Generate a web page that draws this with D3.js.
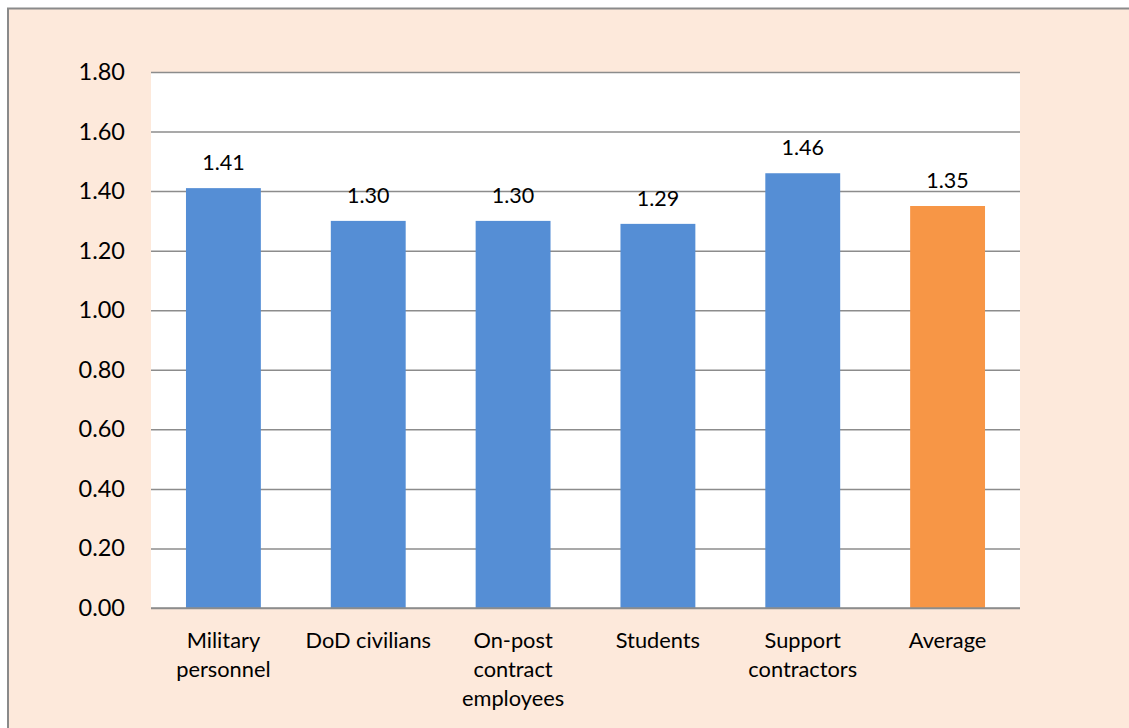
<!DOCTYPE html>
<html>
<head>
<meta charset="utf-8">
<script src="https://cdn.jsdelivr.net/npm/d3@7"></script>
<style>
  html, body { margin: 0; padding: 0; background: #ffffff; }
  svg { display: block; }
  text { font-family: Lato, "Open Sans", sans-serif; fill: #000; }
</style>
</head>
<body>
<svg id="chart" width="1129" height="728"></svg>
<script>
// Ratio by respondent group
const categories = [
  ["Military", "personnel"],
  ["DoD civilians"],
  ["On-post", "contract", "employees"],
  ["Students"],
  ["Support", "contractors"],
  ["Average"]
];
const values = [1.41, 1.30, 1.30, 1.29, 1.46, 1.35];
const valueLabels = ["1.41", "1.30", "1.30", "1.29", "1.46", "1.35"];
const barColors = ["#558ed5", "#558ed5", "#558ed5", "#558ed5", "#558ed5", "#f79646"];
const yTicks = [0, 0.2, 0.4, 0.6, 0.8, 1.0, 1.2, 1.4, 1.6, 1.8];

const W = 1129, H = 728;
const plot = { left: 151, right: 1020, top: 72, bottom: 608 };

const svg = d3.select("#chart");

// outer frame
svg.append("rect")
  .attr("x", 8).attr("y", 8.5)
  .attr("width", W + 20).attr("height", H + 20)
  .attr("fill", "#fde9db")
  .attr("stroke", "#8a8a8a").attr("stroke-width", 2);

// plot area
svg.append("rect")
  .attr("x", plot.left).attr("y", plot.top)
  .attr("width", plot.right - plot.left).attr("height", plot.bottom - plot.top)
  .attr("fill", "#ffffff");

const x = d3.scaleBand()
  .domain(d3.range(categories.length))
  .range([plot.left, plot.right])
  .paddingInner(0.483).paddingOuter(0.2415);

const y = d3.scaleLinear().domain([0, 1.8]).range([plot.bottom, plot.top]);

// gridlines + y labels
const yAxis = d3.axisLeft(y)
  .tickValues(yTicks)
  .tickFormat(d3.format(".2f"))
  .tickSize(-(plot.right - plot.left))
  .tickPadding(26);

const gy = svg.append("g")
  .attr("transform", `translate(${plot.left},0)`)
  .call(yAxis);
gy.select(".domain").remove();
gy.selectAll(".tick line").attr("stroke", "#8c8c8c").attr("stroke-width", 1.5);
gy.selectAll(".tick text")
  .attr("font-size", 23.5)
  .style("font-family", "Lato, sans-serif")
  .attr("fill", "#000");

// bars
svg.append("g").selectAll("rect")
  .data(values)
  .join("rect")
  .attr("x", (d, i) => x(i))
  .attr("width", x.bandwidth())
  .attr("y", d => y(d))
  .attr("height", d => y(0) - y(d))
  .attr("fill", (d, i) => barColors[i]);

// baseline axis (drawn over bars)
svg.append("line")
  .attr("x1", plot.left).attr("x2", plot.right)
  .attr("y1", y(0)).attr("y2", y(0))
  .attr("stroke", "#8c8c8c").attr("stroke-width", 1.5);

// value labels
svg.append("g").selectAll("text")
  .data(values)
  .join("text")
  .attr("x", (d, i) => x(i) + x.bandwidth() / 2)
  .attr("y", d => y(d) - 18)
  .attr("text-anchor", "middle")
  .attr("font-size", 21.5)
  .text((d, i) => valueLabels[i]);

// category labels
const cat = svg.append("g").selectAll("text")
  .data(categories)
  .join("text")
  .attr("x", (d, i) => x(i) + x.bandwidth() / 2)
  .attr("y", plot.bottom + 40)
  .attr("text-anchor", "middle")
  .attr("font-size", 21.8);
cat.selectAll("tspan")
  .data(d => d)
  .join("tspan")
  .attr("x", function () { return d3.select(this.parentNode).attr("x"); })
  .attr("dy", (d, j) => j === 0 ? 0 : 29)
  .text(d => d);
</script>
</body>
</html>
